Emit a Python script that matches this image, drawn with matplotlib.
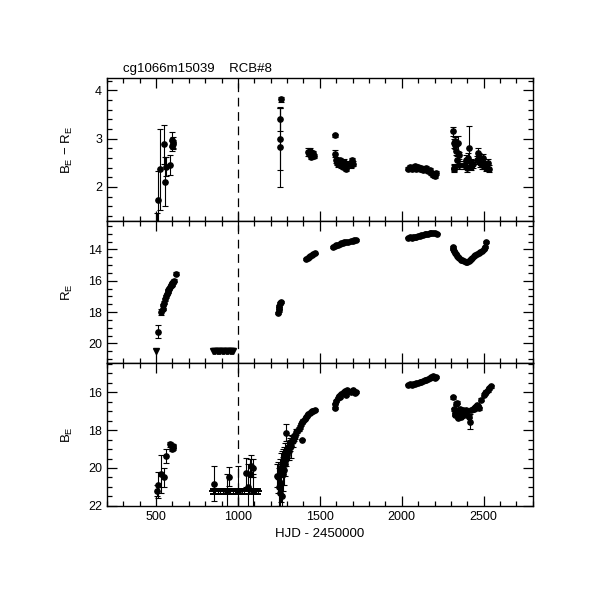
import matplotlib
matplotlib.use("Agg")
import matplotlib.pyplot as plt
from matplotlib.ticker import MultipleLocator

# ---------------- data ----------------
# Top panel: B_E - R_E colour
br_x = [505, 513, 527, 548, 557, 560, 584, 596, 598, 601, 603,
        1257, 1259, 1261,
        1428, 1435, 1440, 1445, 1450, 1455, 1460, 1465,
        1591, 1595, 1598, 1605, 1612, 1620, 1628, 1635, 1642, 1650, 1658, 1665, 1688, 1695, 1702,
        2040, 2050, 2060, 2070, 2080, 2090, 2100, 2110, 2120, 2130, 2140, 2150, 2160, 2170, 2180, 2190, 2200, 2210,
        2311, 2316, 2318, 2322, 2323, 2328, 2332, 2337, 2342, 2347, 2352,
        2383, 2390, 2398, 2405, 2412, 2420, 2425, 2432,
        2457, 2465, 2472, 2480, 2488, 2495, 2505, 2515, 2525, 2535]
br_y = [1.0, 1.72, 2.36, 2.88, 2.11, 2.42, 2.45, 2.98, 2.84, 2.92, 2.88,
        2.82, 3.41, 3.81,
        2.72, 2.68, 2.75, 2.62, 2.70, 2.66, 2.70, 2.64,
        2.69, 3.07, 2.55, 2.50, 2.47, 2.55, 2.45, 2.50, 2.42, 2.52, 2.38, 2.48, 2.45, 2.55, 2.48,
        2.38, 2.42, 2.36, 2.40, 2.44, 2.38, 2.42, 2.36, 2.40, 2.35, 2.38, 2.40, 2.32, 2.35, 2.28, 2.25, 2.22, 2.28,
        3.15, 2.38, 2.90, 2.40, 2.95, 2.86, 2.75, 2.55, 2.90, 2.65, 2.45,
        2.45, 2.55, 2.40, 2.60, 2.81, 2.50, 2.42, 2.48,
        2.55, 2.70, 2.62, 2.50, 2.45, 2.60, 2.45, 2.40, 2.50, 2.38]
br_err = [0.45, 0.60, 0.83, 0.40, 0.50, 0.20, 0.20, 0.15, 0.10, 0.12, 0.10,
          0.82, 0.25, 0.05,
          0.08, 0.05, 0.06, 0.05, 0.05, 0.05, 0.05, 0.05,
          0.08, 0.03, 0.06, 0.05, 0.05, 0.05, 0.05, 0.05, 0.05, 0.05, 0.05, 0.05, 0.05, 0.05, 0.05,
          0.04, 0.04, 0.04, 0.04, 0.04, 0.04, 0.04, 0.04, 0.04, 0.04, 0.04, 0.04, 0.04, 0.04, 0.04, 0.04, 0.04, 0.04,
          0.10, 0.08, 0.10, 0.08, 0.08, 0.08, 0.10, 0.08, 0.15, 0.08, 0.08,
          0.08, 0.10, 0.10, 0.10, 0.45, 0.08, 0.08, 0.08,
          0.08, 0.10, 0.08, 0.08, 0.08, 0.08, 0.08, 0.08, 0.08, 0.08]
# extra colour point at the 1260 epoch
br_extra_x = [1258]
br_extra_y = [2.99]
br_extra_err = [0.64]

# Middle panel: R_E magnitude (detections)
r_x = [513, 529, 540, 545, 550, 555, 560, 565, 570, 575, 580, 585, 590, 595, 600, 605, 612, 621,
       1245, 1248, 1250, 1253, 1256, 1260,
       1418, 1425, 1432, 1440, 1450, 1460, 1468,
       1582, 1590, 1600, 1610, 1620, 1630, 1640, 1650, 1660, 1670, 1690, 1700, 1710, 1720,
       2040, 2050, 2060, 2070, 2080, 2090, 2100, 2110, 2120, 2130, 2140, 2150, 2160, 2170, 2180, 2190, 2200, 2215,
       2310, 2315, 2320, 2325, 2330, 2338, 2345, 2352, 2360, 2370, 2380, 2390, 2400, 2408, 2415, 2422,
       2430, 2440, 2450, 2460, 2470, 2480, 2490, 2500, 2508, 2516]
r_y = [19.25, 18.0, 17.8, 17.55, 17.4, 17.2, 17.0, 16.85, 16.7, 16.6, 16.5, 16.4, 16.3, 16.25, 16.15, 16.1, 16.0, 15.55,
       18.05, 17.9, 17.75, 17.6, 17.45, 17.35,
       14.6, 14.55, 14.48, 14.42, 14.35, 14.28, 14.25,
       13.85, 13.8, 13.75, 13.7, 13.65, 13.6, 13.58, 13.52, 13.5, 13.55, 13.48, 13.45, 13.42, 13.4,
       13.25, 13.22, 13.25, 13.2, 13.18, 13.2, 13.15, 13.12, 13.1, 13.08, 13.05, 13.05, 13.0, 12.98, 12.95, 12.97, 12.95, 13.0,
       13.85, 14.0, 14.1, 14.2, 14.3, 14.4, 14.5, 14.55, 14.65, 14.7, 14.75, 14.78, 14.82, 14.75, 14.7, 14.62,
       14.55, 14.45, 14.38, 14.32, 14.25, 14.15, 14.1, 14.0, 13.85, 13.52]
r_err = [0.4, 0.2] + [0.08] * 16 + [0.08] * 6 + [0.05] * 7 + [0.04] * 14 + [0.03] * 18 + [0.05] * 26
# Middle panel: R_E upper limits
rlim_x = [499, 845, 853, 861, 869, 877, 885, 893, 901, 909, 917, 925, 933, 941, 949, 957, 965, 971]
rlim_y = [20.52] * len(rlim_x)

# Bottom panel: B_E magnitude
b_x = [505, 513, 529, 548, 560, 584, 595, 601, 605,
       853, 935, 946, 1000, 1052, 1060, 1075, 1082, 1090, 1094,
       1240, 1245, 1250, 1255, 1258, 1262, 1265, 1268, 1270, 1273, 1276, 1280, 1283, 1286, 1290, 1293, 1296, 1298,
       1302, 1306, 1310, 1315, 1320, 1325, 1330, 1335, 1340, 1347, 1355, 1362, 1370, 1378, 1388, 1385, 1393, 1400,
       1408, 1415, 1422, 1430, 1438, 1445, 1452, 1460, 1468,
       1591, 1593, 1600, 1608, 1615, 1625, 1632, 1640, 1648, 1655, 1662, 1668, 1690, 1698, 1705, 1712, 1720,
       2040, 2050, 2060, 2070, 2080, 2090, 2100, 2110, 2120, 2130, 2140, 2150, 2160, 2170, 2180, 2190, 2200, 2210,
       2313, 2320, 2323, 2328, 2332, 2338, 2342, 2345, 2350, 2355, 2360, 2365, 2372, 2378, 2385, 2392, 2400, 2408,
       2416, 2425, 2433, 2440, 2450, 2458, 2466, 2472, 2482, 2505, 2510, 2516, 2525, 2535, 2546]
b_y = [21.2, 20.9, 20.33, 20.5, 19.37, 18.76, 19.0, 18.93, 18.85,
       20.82, 21.2, 20.45, 21.2, 20.24, 21.0, 20.3, 19.9, 20.0, 21.2,
       20.4, 20.5, 21.0, 20.2, 21.3, 20.8, 20.0, 21.5, 19.8, 20.3, 19.6, 20.1, 19.4, 19.8, 19.2, 19.5, 18.15, 19.0,
       19.3, 18.9, 19.1, 18.8, 18.7, 18.85, 18.5, 18.6, 18.4, 18.3, 18.1, 18.05, 17.95, 17.85, 18.5, 17.7, 17.6, 17.5,
       17.4, 17.3, 17.25, 17.15, 17.1, 17.05, 17.0, 16.98, 16.95,
       16.84, 16.6, 16.45, 16.3, 16.2, 16.25, 16.1, 16.05, 16.0, 15.95, 16.15, 15.9, 16.0, 15.95, 15.9, 16.05, 16.0,
       15.6, 15.55, 15.6, 15.58, 15.55, 15.5, 15.5, 15.45, 15.45, 15.4, 15.35, 15.38, 15.3, 15.25, 15.2, 15.15, 15.25, 15.2,
       16.26, 16.9, 17.1, 17.2, 16.6, 16.55, 17.0, 17.35, 17.2, 16.9, 17.3, 17.1, 16.95, 17.2, 17.0, 16.95, 17.05, 17.3,
       17.55, 16.95, 16.9, 16.9, 16.8, 16.7, 16.75, 16.85, 16.4, 16.15, 16.05, 15.99, 15.9, 15.8, 15.7]
b_err = [0.3, 0.7, 1.0, 0.5, 0.35, 0.15, 0.1, 0.12, 0.1,
         0.9, 0.9, 0.5, 1.3, 0.75, 1.2, 0.8, 0.6, 0.5, 0.9,
         0.6, 0.8, 1.0, 0.7, 0.8, 1.0, 0.8, 0.6, 0.7, 0.9, 0.6, 0.8, 0.5, 0.6, 0.5, 0.4, 0.45, 0.4,
         0.3, 0.3, 0.5, 0.3, 0.3, 0.6, 0.2, 0.3, 0.2, 0.15, 0.15, 0.1, 0.1, 0.1, 0.05, 0.08, 0.08, 0.08,
         0.06, 0.06, 0.05, 0.05, 0.05, 0.05, 0.05, 0.05, 0.05,
         0.06] + [0.05] * 16 + [0.04] * 18 + [0.08] * 18 + [0.4] + [0.08] * 14
# Bottom panel: B_E upper limits (flat row)
blim_x = [847, 862, 877, 892, 907, 922, 952, 967, 982, 1012, 1027, 1037, 1067, 1100, 1112, 1121]
blim_y = [21.24] * len(blim_x)

title_text = "cg1066m15039    RCB#8"
xlabel_text = "HJD - 2450000"
ylabels = [r"B$_{\rm E}$ $-$ R$_{\rm E}$", r"R$_{\rm E}$", r"B$_{\rm E}$"]
event_hjd = 1000

# ---------------- plot ----------------
plt.rcParams["font.family"] = ["Liberation Sans", "DejaVu Sans"]
plt.rcParams["mathtext.fontset"] = "custom"
plt.rcParams["mathtext.rm"] = "Liberation Sans"

fig = plt.figure(figsize=(6.11, 6.11), dpi=100)
left, width = 0.175, 0.697
bottoms = [0.638, 0.406, 0.172]
heights = [0.234, 0.232, 0.234]
axes = [fig.add_axes([left, b, width, h]) for b, h in zip(bottoms, heights)]

ekw = dict(fmt="o", color="black", ms=3.8, elinewidth=0.8, capsize=2.0, capthick=0.8)

ax1, ax2, ax3 = axes
ax1.errorbar(br_x, br_y, yerr=br_err, **ekw)
ax1.errorbar(br_extra_x, br_extra_y, yerr=br_extra_err, **ekw)
ax2.errorbar(r_x, r_y, yerr=r_err, **ekw)
ax2.plot(rlim_x, rlim_y, "v", color="black", ms=3.8)
ax3.errorbar(b_x, b_y, yerr=b_err, **ekw)
ax3.errorbar(blim_x, blim_y, yerr=0.12, fmt="_", color="black", ms=6, mew=1.4,
             elinewidth=0.8, capsize=2.5, capthick=0.8)

ax1.set_ylim(1.29, 4.25)
ax2.set_ylim(21.25, 12.2)
ax3.set_ylim(22.0, 14.46)

ax1.yaxis.set_major_locator(MultipleLocator(1))
ax1.yaxis.set_minor_locator(MultipleLocator(0.2))
for ax in (ax2, ax3):
    ax.yaxis.set_major_locator(MultipleLocator(2))
    ax.yaxis.set_minor_locator(MultipleLocator(0.5))

for i, ax in enumerate(axes):
    ax.set_xlim(200, 2800)
    ax.axvline(event_hjd, color="black", lw=0.9, ls=(0, (7, 4.5)))
    ax.xaxis.set_major_locator(MultipleLocator(500))
    ax.xaxis.set_minor_locator(MultipleLocator(100))
    ax.tick_params(which="both", direction="in", top=True, right=True, labelsize=9, width=0.9)
    ax.tick_params(which="major", length=7)
    ax.tick_params(which="minor", length=3.5)
    for s in ax.spines.values():
        s.set_linewidth(1.0)
    ax.set_ylabel(ylabels[i], fontsize=9.5)
    if i < 2:
        ax.tick_params(labelbottom=False)

for ax in axes:
    ax.yaxis.set_label_coords(-0.075, 0.5)

ax3.set_xlabel(xlabel_text, fontsize=9.5)
fig.text(left + 0.027, 0.878, title_text, fontsize=9.5, ha="left", va="bottom")

fig.savefig("out.png", dpi=100)
